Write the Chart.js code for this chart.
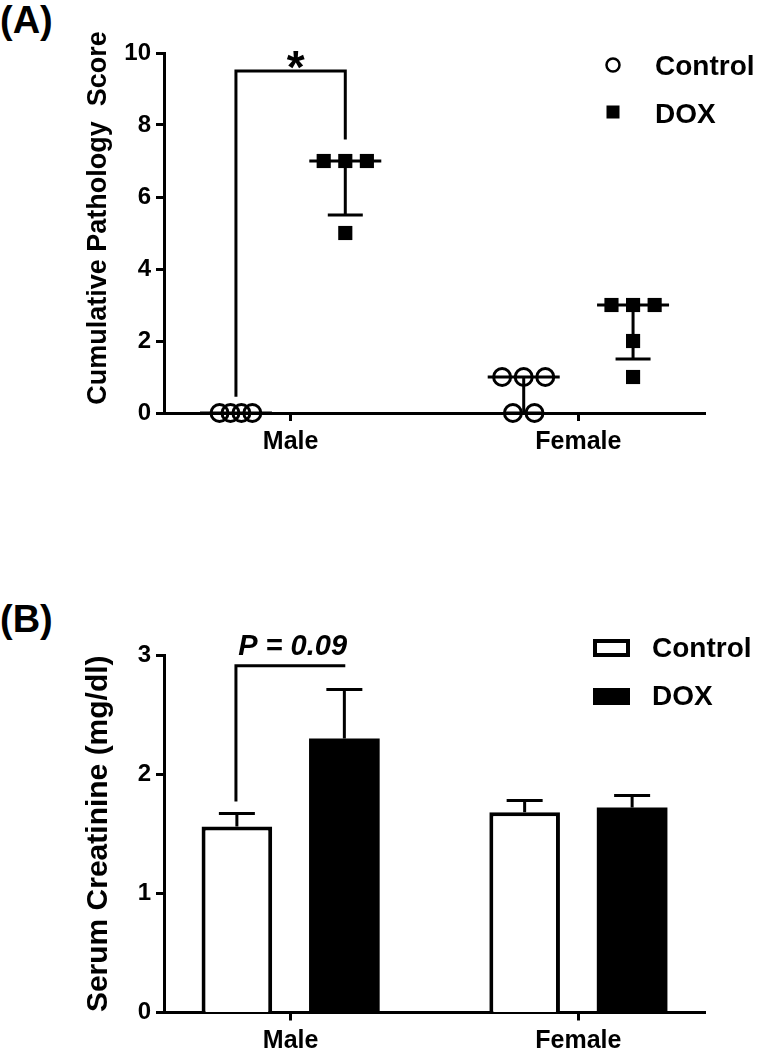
<!DOCTYPE html>
<html>
<head>
<meta charset="utf-8">
<script src="https://cdn.jsdelivr.net/npm/chart.js@4.4.0/dist/chart.umd.min.js"></script>
<style>
  body { margin: 0; background: #fff; font-family: 'Liberation Sans', Arial, sans-serif; }
  #page { position: relative; width: 758px; height: 1054px; overflow: hidden; }
  .tag { position: absolute; left: 0; font-weight: bold; font-size: 38px; line-height: 38px; }
  canvas { position: absolute; left: 0; }
</style>
</head>
<body>
<div id="page">
  <div class="tag" style="top:1px">(A)</div>
  <canvas id="scoreChart" width="758" height="470" style="top:0"></canvas>
  <div class="tag" style="top:600px">(B)</div>
  <canvas id="creatChart" width="758" height="454" style="top:600px"></canvas>
</div>
<script>
const categories = ['Male', 'Female'];
const groups = ['Control', 'DOX'];

// (A) individual pathology scores per animal
const maleControlScores = [0, 0, 0, 0];
const maleDoxScores = [7, 7, 7, 5];
const femaleControlScores = [1, 1, 1, 0, 0];
const femaleDoxScores = [3, 3, 3, 2, 1];
const scoreTicks = [0, 2, 4, 6, 8, 10];

// (B) serum creatinine, mean and SEM
const creatControl = [1.56, 1.68];
const creatControlSem = [0.11, 0.10];
const creatDox = [2.30, 1.72];
const creatDoxSem = [0.41, 0.10];
const creatTicks = [0, 1, 2, 3];

const FONT = "'Liberation Sans', Arial, sans-serif";
Chart.defaults.font.family = FONT;
Chart.defaults.font.weight = 'bold';
Chart.defaults.color = '#000';

const SHIFT = 0.19; // control column left of the category, DOX right of it

// same values sit side by side like a column scatter
function spread(values, center) {
    const counts = {};
    values.forEach(v => counts[v] = (counts[v] || 0) + 1);
    const pts = [];
    Object.keys(counts).forEach(k => {
        const n = counts[k];
        const step = n > 3 ? 0.038 : 0.075;
        for (let j = 0; j < n; j++) {
            pts.push({x: center + (j - (n - 1) / 2) * step, y: +k});
        }
    });
    return pts;
}

function quantile(values, p) {
    const s = [...values].sort((a, b) => a - b);
    const pos = (s.length + 1) * p;
    const lo = Math.floor(pos), hi = Math.ceil(pos);
    const a = s[Math.max(lo, 1) - 1];
    const b = s[Math.min(hi, s.length) - 1];
    return a + (b - a) * (pos - lo);
}

function axisX(axisHeight) {
    return {
        type: 'linear',
        min: 0.56,
        max: 2.44,
        offset: false,
        afterBuildTicks: scale => { scale.ticks = categories.map((c, i) => ({value: i + 1})); },
        afterFit: scale => { scale.height = axisHeight; },
        ticks: {
            autoSkip: false,
            maxRotation: 0,
            padding: 6,
            font: {size: 25, weight: 'bold'},
            callback: v => categories[v - 1]
        },
        grid: {offset: false, drawOnChartArea: false, drawTicks: true, tickLength: 8, tickWidth: 3, tickColor: '#000'},
        border: {display: true, color: '#000', width: 3}
    };
}

function axisY(max, ticks) {
    return {
        min: 0,
        max: max,
        afterBuildTicks: scale => { scale.ticks = ticks.map(v => ({value: v})); },
        afterFit: scale => { scale.width = 164; },
        ticks: {padding: 5, font: {size: 24, weight: 'bold'}},
        grid: {drawOnChartArea: false, drawTicks: true, tickLength: 8, tickWidth: 3, tickColor: '#000'},
        border: {display: true, color: '#000', width: 3}
    };
}

// rotated y axis title
function drawYTitle(chart, text, size, shift) {
    const ctx = chart.ctx, area = chart.chartArea;
    ctx.save();
    ctx.translate(99, (area.top + area.bottom) / 2 + shift);
    ctx.rotate(-Math.PI / 2);
    ctx.fillStyle = '#000';
    ctx.font = 'bold ' + size + 'px ' + FONT;
    ctx.textAlign = 'center';
    ctx.textBaseline = 'middle';
    ctx.fillText(text, 0, 0);
    ctx.restore();
}

// significance bracket + label
function drawBracket(chart, b) {
    const ctx = chart.ctx;
    const xs = chart.scales.x, ys = chart.scales.y;
    const x1 = xs.getPixelForValue(1 - SHIFT);
    const x2 = xs.getPixelForValue(1 + SHIFT);
    const y = ys.getPixelForValue(b.y);
    ctx.save();
    ctx.strokeStyle = '#000';
    ctx.lineWidth = 3;
    ctx.beginPath();
    ctx.moveTo(x1, ys.getPixelForValue(b.left));
    ctx.lineTo(x1, y);
    ctx.lineTo(x2, y);
    ctx.lineTo(x2, ys.getPixelForValue(b.right));
    ctx.stroke();
    ctx.fillStyle = '#000';
    ctx.textAlign = 'center';
    ctx.textBaseline = 'alphabetic';
    ctx.font = b.font;
    ctx.fillText(b.text, (x1 + x2) / 2 + b.dx, y + b.dy);
    ctx.restore();
}

// ---------- (A) ----------
const scoreSets = [
    [maleControlScores, femaleControlScores],
    [maleDoxScores, femaleDoxScores]
];

const medianPlugin = {
    id: 'medianIqr',
    afterDatasetsDraw(chart) {
        const ctx = chart.ctx;
        const xs = chart.scales.x, ys = chart.scales.y;
        ctx.save();
        ctx.strokeStyle = '#000';
        ctx.lineWidth = 3;
        scoreSets.forEach((sets, g) => {
            sets.forEach((vals, c) => {
                const cx = xs.getPixelForValue(c + 1 + (g === 0 ? -SHIFT : SHIFT));
                const q1 = ys.getPixelForValue(quantile(vals, 0.25));
                const md = ys.getPixelForValue(quantile(vals, 0.5));
                const q3 = ys.getPixelForValue(quantile(vals, 0.75));
                ctx.beginPath();
                ctx.moveTo(cx, q1); ctx.lineTo(cx, q3);
                ctx.moveTo(cx - 17.5, q1); ctx.lineTo(cx + 17.5, q1);
                ctx.moveTo(cx - 17.5, q3); ctx.lineTo(cx + 17.5, q3);
                ctx.moveTo(cx - 36, md); ctx.lineTo(cx + 36, md);
                ctx.stroke();
            });
        });
        ctx.restore();
        drawBracket(chart, {y: 9.5, left: 0.45, right: 7.6, text: '*', font: 'bold 46px ' + FONT, dx: 5, dy: 12});
        drawYTitle(chart, 'Cumulative Pathology  Score', 27, -15);

        // legend
        ctx.save();
        ctx.fillStyle = '#000';
        ctx.strokeStyle = '#000';
        ctx.lineWidth = 2.5;
        ctx.beginPath();
        ctx.arc(613, 65, 6.5, 0, Math.PI * 2);
        ctx.stroke();
        ctx.fillRect(606.5, 105.5, 13, 13);
        ctx.font = 'bold 28px ' + FONT;
        ctx.textBaseline = 'alphabetic';
        ctx.fillText(groups[0], 655, 75);
        ctx.fillText(groups[1], 655, 123);
        ctx.restore();
    }
};

new Chart(document.getElementById('scoreChart'), {
    type: 'scatter',
    data: {
        datasets: [
            {
                label: groups[0],
                data: scoreSets[0].flatMap((vals, c) => spread(vals, c + 1 - SHIFT)),
                pointStyle: 'circle',
                pointRadius: 8.5,
                pointBorderWidth: 3,
                pointBorderColor: '#000',
                pointBackgroundColor: 'rgba(0,0,0,0)',
                clip: false
            },
            {
                label: groups[1],
                data: scoreSets[1].flatMap((vals, c) => spread(vals, c + 1 + SHIFT)),
                pointStyle: 'rect',
                pointRadius: 10,
                pointBorderWidth: 0,
                pointBackgroundColor: '#000',
                clip: false
            }
        ]
    },
    options: {
        responsive: false,
        animation: false,
        layout: {padding: {top: 53, right: 53, left: 0, bottom: 0}},
        plugins: {legend: {display: false}, tooltip: {enabled: false}},
        scales: {
            x: axisX(57),
            y: axisY(10, scoreTicks)
        }
    },
    plugins: [medianPlugin]
});

// ---------- (B) ----------
const semPlugin = {
    id: 'semBars',
    afterDatasetsDraw(chart) {
        const ctx = chart.ctx;
        const ys = chart.scales.y;
        ctx.save();
        ctx.strokeStyle = '#000';
        ctx.lineWidth = 3;
        chart.data.datasets.forEach((ds, d) => {
            chart.getDatasetMeta(d).data.forEach((bar, i) => {
                const top = ys.getPixelForValue(ds.data[i].y + ds.sem[i]);
                ctx.beginPath();
                ctx.moveTo(bar.x, bar.y); ctx.lineTo(bar.x, top);
                ctx.moveTo(bar.x - 18, top); ctx.lineTo(bar.x + 18, top);
                ctx.stroke();
            });
        });
        ctx.restore();
        drawBracket(chart, {y: 2.91, left: 1.77, right: 2.91, text: 'P = 0.09', font: 'italic bold 29px ' + FONT, dx: 2, dy: -11});
        drawYTitle(chart, 'Serum Creatinine (mg/dl)', 30, 0);

        // legend
        ctx.save();
        ctx.fillStyle = '#000';
        ctx.strokeStyle = '#000';
        ctx.lineWidth = 4;
        ctx.strokeRect(595, 41, 33, 14);
        ctx.fillRect(593, 88, 37, 17);
        ctx.font = 'bold 28px ' + FONT;
        ctx.textBaseline = 'alphabetic';
        ctx.fillText(groups[0], 652, 57);
        ctx.fillText(groups[1], 652, 105);
        ctx.restore();
    }
};

new Chart(document.getElementById('creatChart'), {
    type: 'bar',
    data: {
        datasets: [
            {
                label: groups[0],
                data: categories.map((c, i) => ({x: i + 1, y: creatControl[i]})),
                sem: creatControlSem,
                backgroundColor: '#fff',
                borderColor: '#000',
                borderWidth: 4,
                borderSkipped: 'bottom'
            },
            {
                label: groups[1],
                data: categories.map((c, i) => ({x: i + 1, y: creatDox[i]})),
                sem: creatDoxSem,
                backgroundColor: '#000',
                borderColor: '#000',
                borderWidth: 0
            }
        ]
    },
    options: {
        responsive: false,
        animation: false,
        categoryPercentage: 0.747,
        barPercentage: 0.657,
        layout: {padding: {top: 55, right: 53, left: 0, bottom: 0}},
        plugins: {legend: {display: false}, tooltip: {enabled: false}},
        scales: {
            x: axisX(41.5),
            y: axisY(3, creatTicks)
        }
    },
    plugins: [semPlugin]
});
</script>
</body>
</html>
